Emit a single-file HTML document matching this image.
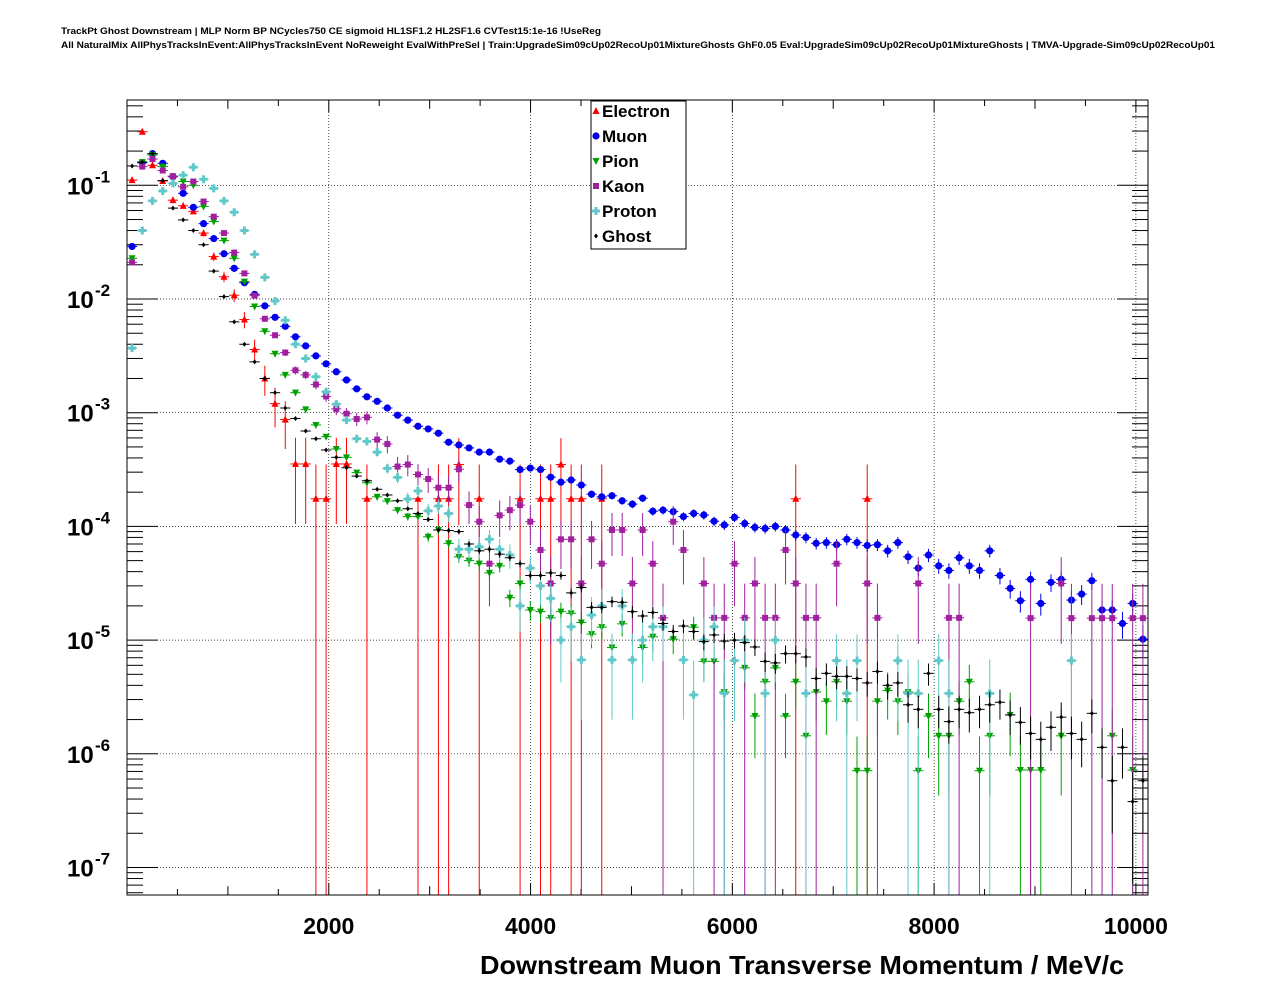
<!DOCTYPE html>
<html><head><meta charset="utf-8"><style>
body{margin:0;background:#fff;}
svg{display:block;font-family:"Liberation Sans",sans-serif;}
</style></head><body>
<svg id="chart" width="1276" height="996">
<text x="61" y="34" font-size="9" font-weight="bold" textLength="540" lengthAdjust="spacingAndGlyphs">TrackPt Ghost Downstream | MLP Norm BP NCycles750 CE sigmoid HL1SF1.2 HL2SF1.6 CVTest15:1e-16 !UseReg</text>
<text x="61" y="48" font-size="9" font-weight="bold" textLength="1154" lengthAdjust="spacingAndGlyphs">All NaturalMix AllPhysTracksInEvent:AllPhysTracksInEvent NoReweight EvalWithPreSel | Train:UpgradeSim09cUp02RecoUp01MixtureGhosts GhF0.05 Eval:UpgradeSim09cUp02RecoUp01MixtureGhosts | TMVA-Upgrade-Sim09cUp02RecoUp01</text>
<g id="grid"></g>
<g id="axes"></g>
<g id="marks"></g>
<rect x="127" y="100" width="1021" height="795" fill="none" stroke="#000" stroke-width="1"/>
<g>
<rect x="591" y="101" width="95" height="148" fill="#fff" stroke="#000" stroke-width="1"/>
<g id="legend"></g>
</g>
<text x="480" y="974" font-size="26" font-weight="bold" textLength="644" lengthAdjust="spacingAndGlyphs">Downstream Muon Transverse Momentum / MeV/c</text>
</svg>
<script>
const seriesNames=["Electron","Muon","Pion","Kaon","Proton","Ghost"];
const _=null;
const electron=[0.111,0.296,0.15,0.109,0.074,0.066,0.059,0.038,0.0236,0.0157,0.0108,0.0066,0.0036,0.002,0.0012,0.00087,0.000354,0.000354,0.000175,0.000175,0.000354,0.000354,_,0.000175,_,_,_,_,0.000175,_,0.000175,0.000175,0.00035,_,0.000175,_,_,_,0.000175,_,0.000175,0.000175,0.00035,0.000175,0.000175,_,0.000175,_,_,_,_,_,_,_,_,_,_,_,_,_,_,_,_,_,_,0.000175,_,_,_,_,_,_,0.000175,_,_,_,_,_,_,_,_,_,_,_,_,_,_,_,_,_,_,_,_,_,_,_,_,_,_,_];
const muon=[0.029,0.158,0.19,0.156,0.119,0.085,0.064,0.046,0.034,0.025,0.0186,0.0139,0.011,0.0087,0.0069,0.00575,0.00465,0.00387,0.00316,0.00269,0.00229,0.00194,0.00162,0.00138,0.00126,0.0011,0.00095,0.00086,0.00076,0.00072,0.00066,0.00055,0.00052,0.00049,0.00045,0.00045,0.00039,0.000375,0.000316,0.000326,0.000316,0.000271,0.000245,0.000256,0.000231,0.000192,1.82e-4,1.86e-4,1.68e-4,1.57e-4,1.77e-4,1.36e-4,1.39e-4,1.35e-4,1.22e-4,1.30e-4,1.26e-4,1.11e-4,1.03e-4,1.2e-4,1.06e-4,9.8e-5,9.6e-5,1.0e-4,9.3e-5,8.4e-5,8.0e-5,7.1e-5,7.2e-5,6.9e-5,7.7e-5,7.2e-5,6.8e-5,6.9e-5,6.1e-5,7.2e-5,5.4e-5,4.3e-5,5.6e-5,4.5e-5,4.1e-5,5.3e-5,4.5e-5,4.1e-5,6.1e-5,3.7e-5,2.85e-5,2.22e-5,3.42e-5,2.1e-5,3.22e-5,3.42e-5,2.25e-5,2.54e-5,3.33e-5,1.84e-5,1.84e-5,1.4e-5,2.1e-5,1.02e-5];
const pion=[0.0228,0.16,0.185,0.146,0.12,0.108,0.1,0.065,0.048,0.0326,0.0228,0.0142,0.0086,0.0052,0.0033,0.00215,0.0015,0.00107,0.00078,0.000615,0.00048,0.000405,0.000297,0.000242,0.000182,0.000167,0.000139,0.000122,0.000122,8.1e-5,9.3e-5,7.1e-5,5.4e-5,5.0e-5,4.7e-5,3.9e-5,4.5e-5,2.36e-5,3.15e-5,1.84e-5,1.78e-5,1.57e-5,1.78e-5,1.72e-5,1.43e-5,1.13e-5,1.3e-5,8.6e-6,1.39e-5,_,8.6e-6,1.07e-5,_,1.02e-5,_,1.3e-5,6.5e-6,6.5e-6,3.5e-6,_,5.7e-6,2.15e-6,4.3e-6,5.7e-6,2.15e-6,4.3e-6,1.44e-6,3.5e-6,2.9e-6,4.3e-6,2.9e-6,7.1e-7,7.1e-7,2.9e-6,3.6e-6,2.9e-6,3.5e-6,7.1e-7,2.15e-6,1.44e-6,1.44e-6,2.9e-6,4.3e-6,7.1e-7,1.44e-6,_,2.2e-6,7.2e-7,7.2e-7,7.2e-7,_,1.44e-6,_,_,_,_,1.44e-6,_,7.2e-7,_];
const kaon=[0.021,0.146,0.17,0.135,0.12,0.097,0.108,0.072,0.053,0.038,0.0256,0.0168,0.0107,0.0067,0.0048,0.00338,0.00236,0.00215,0.00177,0.00139,0.00108,0.00098,0.00088,0.00091,0.00058,0.00053,0.000336,0.00035,0.000286,2.61e-4,2.19e-4,2.19e-4,3.18e-4,1.54e-4,1.1e-4,4.7e-5,1.25e-4,1.39e-4,1.54e-4,1.1e-4,6.2e-5,3.15e-5,7.7e-5,7.7e-5,3.15e-5,7.7e-5,4.7e-5,9.3e-5,9.3e-5,3.15e-5,9.3e-5,4.7e-5,1.57e-5,1.1e-4,6.2e-5,_,3.15e-5,1.57e-5,1.57e-5,4.7e-5,1.57e-5,3.15e-5,1.57e-5,1.57e-5,6.2e-5,3.15e-5,1.57e-5,1.57e-5,_,4.7e-5,_,_,3.15e-5,1.57e-5,_,_,_,3.15e-5,_,_,1.57e-5,1.57e-5,_,_,_,_,_,_,1.56e-5,_,_,3.15e-5,1.56e-5,_,1.56e-5,1.56e-5,1.56e-5,_,1.56e-5,1.56e-5];
const proton=[0.0037,0.04,0.073,0.089,0.104,0.123,0.144,0.113,0.094,0.073,0.058,0.04,0.0247,0.0155,0.0096,0.0065,0.004,0.003,0.00207,0.00153,0.00119,0.00086,0.00059,0.00056,0.00045,0.000324,0.00027,0.000174,0.000205,1.37e-4,1.51e-4,1.3e-4,6.3e-5,6.3e-5,6.6e-5,7.7e-5,6.3e-5,5.6e-5,2.0e-5,4.3e-5,3.0e-5,2.33e-5,1.0e-5,1.31e-5,6.7e-6,1.66e-5,2.0e-5,6.7e-6,2.0e-5,6.7e-6,1.0e-5,1.31e-5,1.31e-5,_,6.7e-6,3.3e-6,1.0e-5,1.31e-5,3.4e-6,6.6e-6,1.0e-5,_,3.4e-6,1.0e-5,_,_,3.4e-6,_,_,6.6e-6,3.4e-6,6.6e-6,_,_,_,6.6e-6,3.4e-6,3.4e-6,_,6.6e-6,3.4e-6,_,_,_,3.4e-6,_,_,_,_,_,_,_,6.6e-6,_,_,_,_,_,_,_];
const ghost=[0.148,0.16,0.19,0.11,0.063,0.0496,0.04,0.03,0.0176,0.0105,0.0063,0.004,0.0028,0.002,0.0015,0.0011,0.00089,0.00069,0.00059,0.00047,0.000405,0.000328,0.000277,0.000252,0.000212,0.000189,0.000168,0.000143,0.00013,1.15e-4,9.3e-5,9.2e-5,9.0e-5,7.0e-5,6.1e-5,6.3e-5,5.7e-5,5.3e-5,4.7e-5,3.7e-5,3.7e-5,3.9e-5,3.7e-5,2.6e-5,2.9e-5,1.94e-5,1.94e-5,2.18e-5,2.15e-5,1.78e-5,1.63e-5,1.75e-5,1.4e-5,1.19e-5,1.33e-5,1.19e-5,9.7e-6,1.11e-5,9.8e-6,1.0e-5,9.5e-6,8.7e-6,6.5e-6,6.3e-6,7.6e-6,7.6e-6,7.1e-6,4.6e-6,5.1e-6,4.8e-6,4.8e-6,4.6e-6,4.2e-6,5.3e-6,4.0e-6,4.2e-6,2.7e-6,2.46e-6,5.1e-6,2.46e-6,1.92e-6,2.46e-6,2.3e-6,2.46e-6,2.7e-6,2.84e-6,2.2e-6,1.89e-6,1.51e-6,1.34e-6,1.71e-6,2.1e-6,1.51e-6,1.34e-6,2.27e-6,1.14e-6,5.8e-7,1.14e-6,3.8e-7,5.8e-7];
const xTicks=[2000,4000,6000,8000,10000];
const yExps=[-7,-6,-5,-4,-3,-2,-1];
const NS="http://www.w3.org/2000/svg";
const X0=127,X1=1148,Y0=100,Y1=895,XMIN=0,XMAX=10120,NBIN=100,BIN=XMAX/NBIN;
const YTOP=-1+(185.3-100)/113.7, YBOT=-7-(895-867.5)/113.7;
function sx(v){return X0+(v-XMIN)/(XMAX-XMIN)*(X1-X0);}
function sy(v){const l=Math.log10(v);return Y0+(YTOP-l)/(YTOP-YBOT)*(Y1-Y0);}
function mk(tag,attrs,parent){const e=document.createElementNS(NS,tag);for(const k in attrs)e.setAttribute(k,attrs[k]);parent.appendChild(e);return e;}
const grid=document.getElementById('grid'),axes=document.getElementById('axes'),marks=document.getElementById('marks');
xTicks.forEach(t=>{const x=sx(t);
 const g=mk('line',{x1:x,x2:x,y1:Y0,y2:Y1,stroke:'#000','stroke-width':0.7,'stroke-dasharray':'1,2'},grid);
 
 
 const tx=mk('text',{x:x,y:934,'font-size':23,'font-weight':'bold','text-anchor':'middle'},axes);
 tx.textContent=t;
 
 
});
for(let v=500;v<XMAX;v+=500){const x=sx(v);const L=(v%1000===0)?(v%2000===0?22:16)*0.55:6;
 mk('line',{x1:x,x2:x,y1:Y1,y2:Y1-L,stroke:'#000','stroke-width':1},axes);
 mk('line',{x1:x,x2:x,y1:Y0,y2:Y0+L,stroke:'#000','stroke-width':1},axes);}
yExps.forEach(e=>{const y=sy(Math.pow(10,e));
 const g=mk('line',{x1:X0,x2:X1,y1:y,y2:y,stroke:'#000','stroke-width':0.7,'stroke-dasharray':'1,2'},grid);
 
 
 mk('line',{x1:X0,x2:X0+31,y1:y,y2:y,stroke:'#000','stroke-width':1},axes);
 mk('line',{x1:X1,x2:X1-31,y1:y,y2:y,stroke:'#000','stroke-width':1},axes);
 for(let m=2;m<10;m++){const ym=sy(m*Math.pow(10,e));if(ym>Y0){mk('line',{x1:X0,x2:X0+16,y1:ym,y2:ym,stroke:'#000','stroke-width':1},axes);mk('line',{x1:X1,x2:X1-16,y1:ym,y2:ym,stroke:'#000','stroke-width':1},axes);}}
 const tx=mk('text',{x:67,y:y+9,'font-size':24,'font-weight':'bold'},axes);
 tx.textContent='10';
 
 
 const sp=mk('text',{x:95,y:y-3,'font-size':17,'font-weight':'bold'},axes);
 sp.textContent=String(e);
});
for(let m=2;m<10;m++){const ym=sy(m*1e-8);if(ym<Y1){mk('line',{x1:X0,x2:X0+16,y1:ym,y2:ym,stroke:'#000'},axes);mk('line',{x1:X1,x2:X1-16,y1:ym,y2:ym,stroke:'#000'},axes);}}
const styles=[
 {data:electron,color:'#ff0000',shape:'tri',unit:1.75e-4},
 {data:muon,color:'#0000ee',shape:'circ',unit:1e-6},
 {data:pion,color:'#00a000',shape:'tridn',unit:7.1e-7},
 {data:kaon,color:'#a020a0',shape:'sq',unit:1.57e-5},
 {data:proton,color:'#60c8c8',shape:'cross',unit:3.3e-6},
 {data:ghost,color:'#000000',shape:'dia',unit:2.5e-7}];
function marker(shape,x,y,c,parent){
 if(shape==='tri')return mk('polygon',{points:`${x},${y-4} ${x-3.5},${y+3} ${x+3.5},${y+3}`,fill:c},parent);
 if(shape==='tridn')return mk('polygon',{points:`${x},${y+4} ${x-3.5},${y-3} ${x+3.5},${y-3}`,fill:c},parent);
 if(shape==='circ')return mk('circle',{cx:x,cy:y,r:3.6,fill:c},parent);
 if(shape==='sq')return mk('rect',{x:x-3,y:y-3,width:6,height:6,fill:c},parent);
 if(shape==='cross')return mk('path',{d:`M${x-4},${y-1.5}h2.5v-2.5h3v2.5h2.5v3h-2.5v2.5h-3v-2.5h-2.5z`,fill:c},parent);
 return mk('polygon',{points:`${x},${y-2.5} ${x-2},${y} ${x},${y+2.5} ${x+2},${y}`,fill:c},parent);
}
styles.forEach((s,si)=>{
 const g=mk('g',{},marks);
 
 
 s.data.forEach((v,i)=>{ if(v==null)return;
  const xc=sx(BIN*i+BIN/2), y=sy(v);
  const rel=Math.sqrt(s.unit/v);
  const yl=rel>=0.999?Y1:Math.min(Y1,sy(v*(1-rel))), yh=Math.max(Y0,sy(v*(1+rel)));
  mk('line',{x1:sx(BIN*i),x2:sx(BIN*(i+1)),y1:y,y2:y,stroke:s.color,'stroke-width':1},g);
  mk('line',{x1:xc,x2:xc,y1:yh,y2:yl,stroke:s.color,'stroke-width':1},g);
  const m=marker(s.shape,xc,y,s.color,g);
  
  
 });
});
const leg=document.getElementById('legend');
seriesNames.forEach((n,i)=>{const y=111+i*25;
 marker(styles[i].shape,596,y,styles[i].color,leg);
 const t=mk('text',{x:602,y:y+6,'font-size':17,'font-weight':'bold'},leg);
 t.textContent=n;
 
 
});
</script>
</body></html>
